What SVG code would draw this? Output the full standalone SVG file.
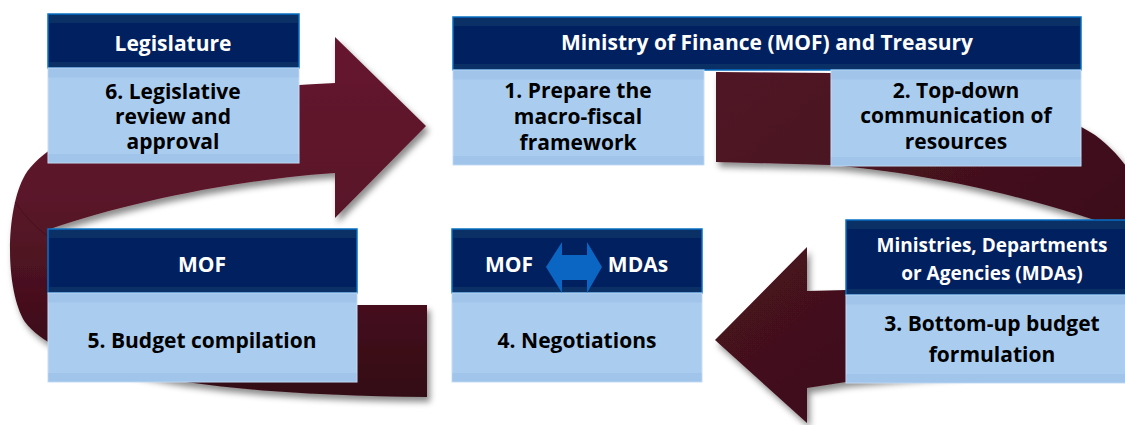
<svg xmlns="http://www.w3.org/2000/svg" width="1125" height="425" viewBox="0 0 1125 425">
  <defs>
    <linearGradient id="gLeft" x1="0" y1="0" x2="0" y2="1">
      <stop offset="0" stop-color="#66192f"/>
      <stop offset="0.45" stop-color="#5a1629"/>
      <stop offset="1" stop-color="#330a14"/>
    </linearGradient>
    <linearGradient id="gRight" x1="0" y1="0" x2="1" y2="1">
      <stop offset="0" stop-color="#511726"/>
      <stop offset="0.6" stop-color="#3f0f1b"/>
      <stop offset="1" stop-color="#2e0a12"/>
    </linearGradient>
    <filter id="shadow" x="-10%" y="-10%" width="130%" height="130%">
      <feDropShadow dx="3" dy="5" stdDeviation="3" flood-color="#000" flood-opacity="0.45"/>
    </filter>
    <style>
      .hdr { fill: #002060; stroke: #0a70c4; stroke-width: 1.5; }
      .band { fill: #0b3066; }
      .body { fill: #aacdef; stroke: #c8def5; stroke-width: 1; }
      .bband { fill: #a0c4ea; }
      .ht { font-family: "Open Sans", "Liberation Sans", sans-serif; font-weight: bold; font-size: 21px; fill: #ffffff; text-anchor: middle; }
      .bt { font-family: "Open Sans", "Liberation Sans", sans-serif; font-weight: bold; font-size: 21px; fill: #000000; text-anchor: middle; }
    </style>
  </defs>
  <rect width="1125" height="425" fill="#ffffff"/>

  <g id="connectors">
    <path id="arrow-left-loop" filter="url(#shadow)" fill="url(#gLeft)"
      d="M 426,126 L 335,37 L 335,83 C 200,88 60,120 25,175 C 5,210 5,290 25,322 C 70,380 250,395 427,397 L 427,305 L 340,305 C 150,302 55,290 52,255 L 50,229 C 120,205 230,180 335,173 L 335,218 Z"/>
    <path d="M 15,202 C 25,216 36,228 49,237" fill="none" stroke="#3a0c17" stroke-width="1" opacity="0.6"/>
    <path id="arrow-right-loop" filter="url(#shadow)" fill="url(#gRight)"
      d="M 716,72 L 830,73 C 950,80 1050,105 1095,135 C 1118,152 1135,175 1145,200 L 1150,300 L 846,290 L 807,291 L 807,247 L 715,340 L 807,423 L 807,388 L 846,382 L 1000,370 L 1110,300 L 1110,225 C 1050,205 950,175 830,165 L 716,162 Z"/>
  </g>

  <g id="node-legislature">
    <rect class="hdr" x="48" y="14" width="251" height="54"/>
    <rect class="band" x="49" y="15" width="249" height="8"/>
    <rect class="band" x="49" y="62" width="249" height="5"/>
    <rect class="body" x="48" y="68" width="251" height="95"/>
    <rect class="bband" x="48.5" y="68.5" width="250" height="9"/>
    <rect class="bband" x="48.5" y="154" width="250" height="8.5"/>
    <text class="ht" x="173" y="51">Legislature</text>
    <text class="bt" x="173" y="99">6. Legislative</text>
    <text class="bt" x="173" y="124">review and</text>
    <text class="bt" x="173" y="149">approval</text>
  </g>

  <g id="node-mof-treasury">
    <rect class="hdr" x="453" y="17" width="628" height="53"/>
    <rect class="band" x="454" y="18" width="626" height="8"/>
    <rect class="band" x="454" y="64" width="626" height="5"/>
    <text class="ht" x="767" y="50">Ministry of Finance (MOF) and Treasury</text>
  </g>

  <g id="node-step1">
    <rect class="body" x="453" y="70" width="251" height="95"/>
    <rect class="bband" x="453.5" y="70.5" width="250" height="9"/>
    <rect class="bband" x="453.5" y="156" width="250" height="8.5"/>
    <text class="bt" x="578" y="98">1. Prepare the</text>
    <text class="bt" x="578" y="124">macro-fiscal</text>
    <text class="bt" x="578" y="150">framework</text>
  </g>

  <g id="node-step2">
    <rect class="body" x="831" y="70" width="250" height="96"/>
    <rect class="bband" x="831.5" y="70.5" width="249" height="9"/>
    <rect class="bband" x="831.5" y="157" width="249" height="8.5"/>
    <text class="bt" x="956" y="98">2. Top-down</text>
    <text class="bt" x="956" y="123">communication of</text>
    <text class="bt" x="956" y="149">resources</text>
  </g>

  <g id="node-mdas">
    <rect class="hdr" x="846" y="220" width="290" height="75"/>
    <rect class="band" x="847" y="221" width="288" height="8"/>
    <rect class="band" x="847" y="289" width="288" height="5"/>
    <rect class="body" x="846" y="295" width="290" height="88"/>
    <rect class="bband" x="846.5" y="295.5" width="289" height="9"/>
    <rect class="bband" x="846.5" y="374" width="289" height="8.5"/>
    <text class="ht" x="992" y="252" style="font-size:19px">Ministries, Departments</text>
    <text class="ht" x="992" y="280" style="font-size:19px">or Agencies (MDAs)</text>
    <text class="bt" x="992" y="331">3. Bottom-up budget</text>
    <text class="bt" x="992" y="362">formulation</text>
  </g>

  <g id="node-negotiations">
    <rect class="hdr" x="452" y="229" width="250" height="64"/>
    <rect class="band" x="453" y="230" width="248" height="8"/>
    <rect class="band" x="453" y="287" width="248" height="5"/>
    <rect class="body" x="452" y="293" width="250" height="89"/>
    <rect class="bband" x="452.5" y="293.5" width="249" height="9"/>
    <rect class="bband" x="452.5" y="373" width="249" height="8.5"/>
    <path d="M 546,267 L 562,242 L 562,255 L 587,255 L 587,242 L 602,267 L 587,293 L 587,280 L 562,280 L 562,293 Z" fill="#0a66c2"/>
    <text class="ht" x="509" y="272">MOF</text>
    <text class="ht" x="638" y="272">MDAs</text>
    <text class="bt" x="577" y="348">4. Negotiations</text>
  </g>

  <g id="node-step5">
    <rect class="hdr" x="48" y="229" width="309" height="64"/>
    <rect class="band" x="49" y="230" width="307" height="8"/>
    <rect class="band" x="49" y="287" width="307" height="5"/>
    <rect class="body" x="48" y="293" width="309" height="89"/>
    <rect class="bband" x="48.5" y="293.5" width="308" height="9"/>
    <rect class="bband" x="48.5" y="373" width="308" height="8.5"/>
    <text class="ht" x="202" y="272">MOF</text>
    <text class="bt" x="202" y="348">5. Budget compilation</text>
  </g>
</svg>
